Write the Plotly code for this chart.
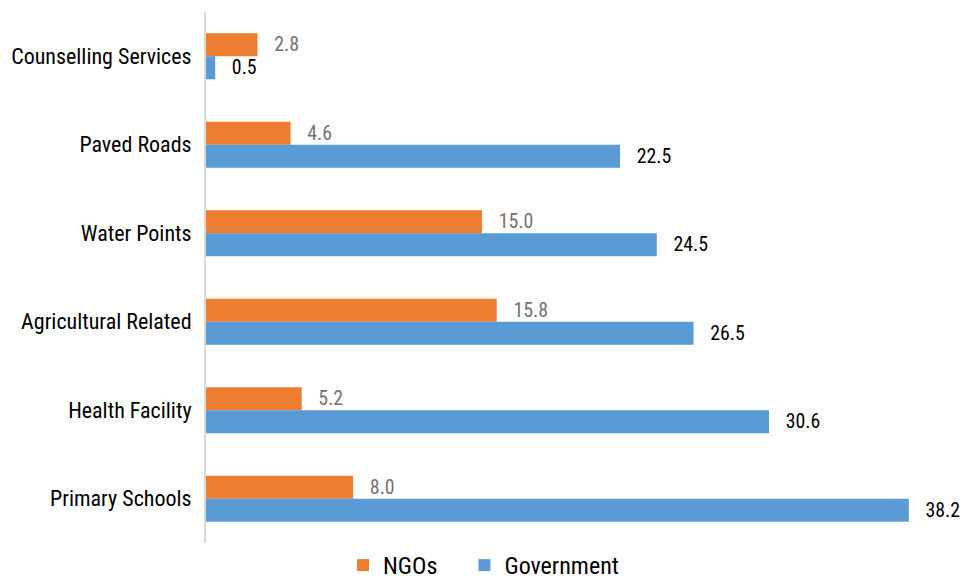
import plotly.graph_objects as go

# Service categories, listed top to bottom as displayed
categories = [
    "Counselling Services",
    "Paved Roads",
    "Water Points",
    "Agricultural Related",
    "Health Facility",
    "Primary Schools",
]
ngos = [2.8, 4.6, 15.0, 15.8, 5.2, 8.0]
government = [0.5, 22.5, 24.5, 26.5, 30.6, 38.2]

FONT = "Roboto Condensed, Liberation Sans Narrow, sans-serif"
NBSP = "\u00a0"

fig = go.Figure()
fig.add_trace(go.Bar(
    name="NGOs" + NBSP * 4, y=categories, x=ngos, orientation="h",
    marker=dict(color="#ED7D31", line=dict(width=0)),
    texttemplate=NBSP * 3 + "%{x:.1f}", textposition="outside",
    textfont=dict(family=FONT, size=25, color="#767171"),
    cliponaxis=False,
))
fig.add_trace(go.Bar(
    name="Government", y=categories, x=government, orientation="h",
    marker=dict(color="#5B9BD5", line=dict(width=0)),
    texttemplate=NBSP * 3 + "%{x:.1f}", textposition="outside",
    textfont=dict(family=FONT, size=25, color="#000000"),
    cliponaxis=False,
))

fig.update_layout(
    width=967, height=588,
    margin=dict(l=206, r=25, t=12, b=40),
    barmode="group", bargap=0.48, bargroupgap=0,
    plot_bgcolor="white", paper_bgcolor="white",
    font=dict(family=FONT, size=22, color="#000000"),
    xaxis=dict(range=[0, 40], visible=False, showgrid=False, zeroline=False,
               automargin=False),
    yaxis=dict(
        autorange="reversed", categoryorder="array", categoryarray=categories,
        showline=True, linecolor="#D9D9D9", linewidth=2,
        ticks="", ticklabelstandoff=8, showgrid=False, automargin=False,
        tickfont=dict(family=FONT, size=22, color="#000000"),
    ),
    legend=dict(
        orientation="h", xref="container", yref="container",
        x=0.5, xanchor="center", y=0, yanchor="bottom",
        font=dict(family=FONT, size=24, color="#000000"),
    ),
    showlegend=True,
)

fig.write_html("out.html")
